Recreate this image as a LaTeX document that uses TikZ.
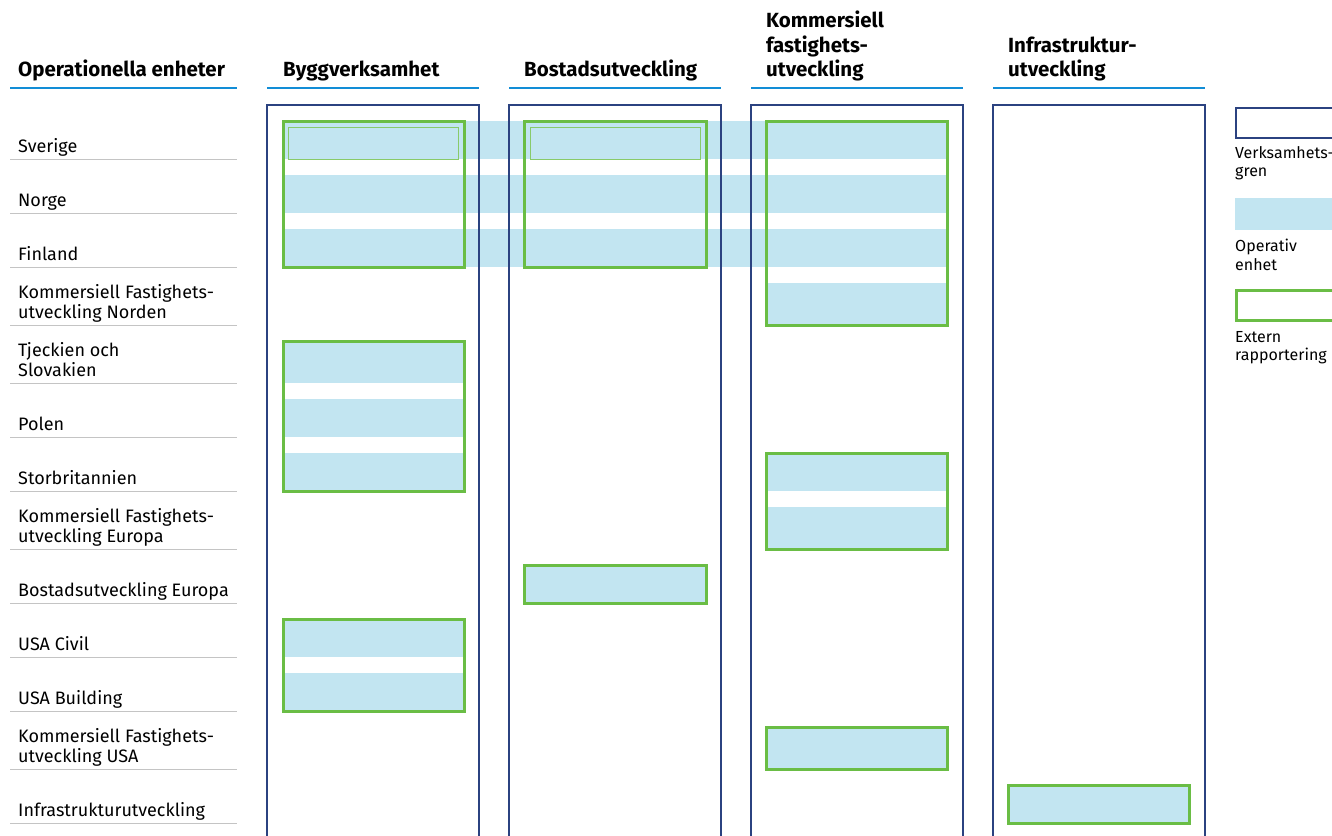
\documentclass[tikz,border=0pt]{standalone}
\usepackage{fontspec}
\setmainfont{Fira Sans}
\definecolor{navy}{HTML}{2B4280}
\definecolor{unitblue}{HTML}{C2E5F1}
\definecolor{extgreen}{HTML}{6ABD45}
\definecolor{headblue}{HTML}{128DD6}
\definecolor{rulegray}{HTML}{C4C4C4}
\newcommand\lowstrut{\rule[-5pt]{0pt}{5pt}}

\begin{document}
\begin{tikzpicture}[x=1pt,y=-1pt,
    rowlabel/.style={anchor=south west,inner sep=0pt,align=left,font=\fontsize{18}{20.5}\selectfont},
    headlabel/.style={anchor=south west,inner sep=0pt,align=left,font=\fontsize{20.5}{24.5}\selectfont\bfseries},
    legendlabel/.style={anchor=north west,inner sep=0pt,align=left,font=\fontsize{16}{18.5}\selectfont},
    extbox/.style={draw=extgreen,line width=3pt},
    innerbox/.style={fill=unitblue,draw=extgreen!80,line width=1pt},
    branch/.style={draw=navy,line width=2pt}]
  \useasboundingbox (0,0) rectangle (1332,835);
  \clip (0,0) rectangle (1332,835);

  % rubriker
  \node[headlabel] (hoper) at (18,82) {Operationella enheter\lowstrut};
  \node[headlabel] (hbygg) at (283,82) {Byggverksamhet\lowstrut};
  \node[headlabel] (hbostad) at (524,82) {Bostadsutveckling\lowstrut};
  \node[headlabel] (hkomm) at (766,82) {Kommersiell\\fastighets-\\utveckling\lowstrut};
  \node[headlabel] (hinfra) at (1008,82) {Infrastruktur-\\utveckling\lowstrut};
  \draw[headblue,line width=2pt] (10,88) -- (237,88);
  \foreach \c in {267,509,751,993}
    \draw[headblue,line width=2pt] (\c,88) -- (\c+212,88);

  % operativa enheter
  \foreach \y/\txt [count=\i] in {159/Sverige, 213/Norge, 267/Finland,
      325/{Kommersiell Fastighets-\\utveckling Norden}, 383/{Tjeckien och\\Slovakien},
      437/Polen, 491/Storbritannien, 549/{Kommersiell Fastighets-\\utveckling Europa},
      603/Bostadsutveckling Europa, 657/USA Civil, 711/USA Building,
      769/{Kommersiell Fastighets-\\utveckling USA}, 823/Infrastrukturutveckling} {
    \node[rowlabel] (row\i) at (18,\y-1) {\txt\lowstrut};
    \draw[rulegray,line width=1pt] (10,\y) -- (237,\y);
  }

  % band som korsar flera verksamhetsgrenar
  \foreach \t/\b in {121/159, 175/213, 229/267}
    \fill[unitblue] (283,\t) rectangle (947,\b);
  \draw[innerbox] (288,127) rectangle (458,159);
  \draw[innerbox] (530,127) rectangle (700,159);

  % Byggverksamhet
  \foreach \t/\b in {341/383, 399/437, 453/491, 619/657, 673/711}
    \fill[unitblue] (283,\t) rectangle (464,\b);
  \draw[extbox] (283,121) rectangle (464,267);
  \draw[extbox] (283,341) rectangle (464,491);
  \draw[extbox] (283,619) rectangle (464,711);

  % Bostadsutveckling
  \fill[unitblue] (524,565) rectangle (706,603);
  \draw[extbox] (524,121) rectangle (706,267);
  \draw[extbox] (524,565) rectangle (706,603);

  % Kommersiell fastighetsutveckling
  \foreach \t/\b in {283/325, 453/491, 507/549, 727/769}
    \fill[unitblue] (766,\t) rectangle (947,\b);
  \draw[extbox] (766,121) rectangle (947,325);
  \draw[extbox] (766,453) rectangle (947,549);
  \draw[extbox] (766,727) rectangle (947,769);

  % Infrastrukturutveckling
  \fill[unitblue] (1008,785) rectangle (1189,823);
  \draw[extbox] (1008,785) rectangle (1189,823);

  % verksamhetsgrenar
  \foreach \c in {267,509,751,993}
    \draw[branch] (\c,845) -- (\c,105) -- (\c+212,105) -- (\c+212,845);

  % teckenförklaring
  \draw[branch] (1236,108) rectangle (1345,138);
  \node[legendlabel] (lbranch) at (1235,146) {Verksamhets-\\gren};
  \fill[unitblue] (1235,198) rectangle (1345,230);
  \node[legendlabel] (lunit) at (1235,239) {Operativ\\enhet};
  \draw[extbox] (1236,290) rectangle (1345,320);
  \node[legendlabel] (lext) at (1235,331) {Extern\\rapportering};
\end{tikzpicture}
\end{document}
